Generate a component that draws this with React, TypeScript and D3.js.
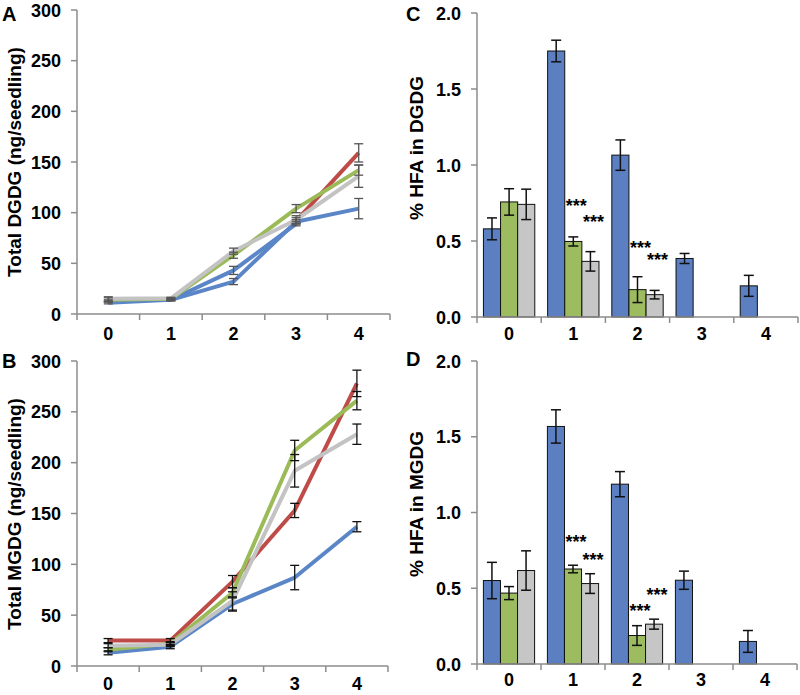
import React from "react";
import * as d3 from "d3";

// ---------- data ----------
const days = ["0", "1", "2", "3", "4"];

// Panel A: Total DGDG (ng/seedling)
const dgdgBlue = [11, 14, 32, 91, 104];
const dgdgBlueErr = [1, 1, 3, 2, 10];
const dgdgBlue2 = [13, 14, 43, 89, null];
const dgdgBlue2Err = [1, 1, 4, 2, 0];
const dgdgRed = [null, null, null, 92, 159];
const dgdgRedErr = [0, 0, 0, 3, 9];
const dgdgGreen = [14, 15, 58, 104, 142];
const dgdgGreenErr = [2, 1, 3, 4, 5];
const dgdgGray = [15, 15.5, 62, 93, 136];
const dgdgGrayErr = [2, 1, 3, 4, 11];

// Panel B: Total MGDG (ng/seedling)
const mgdgBlue = [13, 19, 61, 87, 137];
const mgdgBlueErr = [2, 2, 7, 12, 5];
const mgdgRed = [25, 25, 83, 153, 278];
const mgdgRedErr = [2, 2, 6, 7, 13];
const mgdgGreen = [16, 22, 72, 212, 261];
const mgdgGreenErr = [2, 2, 5, 10, 9];
const mgdgGray = [20, 21, 64, 192, 228];
const mgdgGrayErr = [2, 2, 9, 16, 10];

// Panel C: % HFA in DGDG
const hfaDgdgBlue = [0.58, 1.75, 1.065, 0.385, 0.205];
const hfaDgdgBlueErr = [0.072, 0.071, 0.1, 0.033, 0.069];
const hfaDgdgGreen = [0.757, 0.497, 0.18, null, null];
const hfaDgdgGreenErr = [0.087, 0.03, 0.085, 0, 0];
const hfaDgdgGray = [0.741, 0.366, 0.147, null, null];
const hfaDgdgGrayErr = [0.1, 0.064, 0.028, 0, 0];
// significance marks: [day, series, value]
const hfaDgdgStars: [string, string, number][] = [
  ["1", "green", 0.76],
  ["1", "gray", 0.66],
  ["2", "green", 0.49],
  ["2", "gray", 0.41],
];

// Panel D: % HFA in MGDG
const hfaMgdgBlue = [0.551, 1.568, 1.187, 0.553, 0.149];
const hfaMgdgBlueErr = [0.12, 0.11, 0.083, 0.06, 0.072];
const hfaMgdgGreen = [0.468, 0.627, 0.188, null, null];
const hfaMgdgGreenErr = [0.043, 0.025, 0.065, 0, 0];
const hfaMgdgGray = [0.617, 0.531, 0.263, null, null];
const hfaMgdgGrayErr = [0.13, 0.065, 0.033, 0, 0];
const hfaMgdgStars: [string, string, number][] = [
  ["1", "green", 0.84],
  ["1", "gray", 0.72],
  ["2", "green", 0.38],
  ["2", "gray", 0.49],
];

const lineTicks = [0, 50, 100, 150, 200, 250, 300];
const barTicks = [0, 0.5, 1.0, 1.5, 2.0];

const barSeries = ["blue", "green", "gray"];

const COL = {
  lineBlue: "#5a86c8",
  lineRed: "#be4b48",
  lineGreen: "#9bbb59",
  lineGray: "#c3c3c3",
  barBlue: "#5b7fc0",
  barGreen: "#9dbb5f",
  barGray: "#c6c6c6",
  axis: "#8c8c8c",
};

const FONT = "'Liberation Sans', Arial, sans-serif";

type LineSeries = { values: (number | null)[]; err: number[]; color: string; errColor: string };

function Axes({
  x0, x1, y0, y1, yScale, ticks, fmt, title, label, labelY, titleX, titleY, xLabelY,
}: any) {
  const band = d3.scaleBand().domain(days).range([x0, x1]);
  const bounds = [x0, ...days.map((d) => (band(d) as number) + band.bandwidth())];
  return (
    <g>
      <line x1={x0} x2={x0} y1={y0} y2={y1} stroke={COL.axis} strokeWidth={1.5} />
      <line x1={x0} x2={x1} y1={y0} y2={y0} stroke={COL.axis} strokeWidth={1.5} />
      {ticks.map((t: number) => (
        <g key={t}>
          <line x1={x0 - 6} x2={x0} y1={yScale(t)} y2={yScale(t)} stroke={COL.axis} strokeWidth={1.5} />
          <text x={x0 - 16} y={yScale(t) + 6.5} textAnchor="end" fontSize={18} fontWeight="bold" fontFamily={FONT}>
            {fmt(t)}
          </text>
        </g>
      ))}
      {bounds.map((b, i) => (
        <line key={i} x1={b} x2={b} y1={y0} y2={y0 + 6} stroke={COL.axis} strokeWidth={1.5} />
      ))}
      {days.map((d) => (
        <text key={d} x={(band(d) as number) + band.bandwidth() / 2} y={xLabelY} textAnchor="middle" fontSize={18} fontWeight="bold" fontFamily={FONT}>
          {d}
        </text>
      ))}
      <text
        transform={`translate(${titleX},${titleY}) rotate(-90)`}
        textAnchor="middle"
        dominantBaseline="central"
        fontSize={19}
        fontWeight="bold"
        fontFamily={FONT}
      >
        {title}
      </text>
      <text x={label.x} y={labelY} fontSize={20} fontWeight="bold" fontFamily={FONT}>
        {label.text}
      </text>
    </g>
  );
}

function LinePanel({ x0, x1, y0, y1, series, title, label, labelY, titleX, titleY, xLabelY }: any) {
  const band = d3.scaleBand().domain(days).range([x0, x1]);
  const cx = (d: string) => (band(d) as number) + band.bandwidth() / 2;
  const y = d3.scaleLinear().domain([0, 300]).range([y0, y1]);
  const line = d3
    .line<[string, number | null]>()
    .defined((p) => p[1] !== null)
    .x((p) => cx(p[0]))
    .y((p) => y(p[1] as number));
  return (
    <g>
      <Axes x0={x0} x1={x1} y0={y0} y1={y1} yScale={y} ticks={lineTicks} fmt={(t: number) => String(t)}
        title={title} label={label} labelY={labelY} titleX={titleX} titleY={titleY} xLabelY={xLabelY} />
      {series.map((s: LineSeries, i: number) => (
        <path key={i} d={line(days.map((d, k) => [d, s.values[k]])) || ""} fill="none" stroke={s.color} strokeWidth={4} strokeLinejoin="round" />
      ))}
      {series.map((s: LineSeries, i: number) =>
        days.map((d, k) => {
          const v = s.values[k];
          if (v === null || !s.err[k]) return null;
          const yt = y(v + s.err[k]);
          const yb = y(v - s.err[k]);
          const xx = cx(d);
          return (
            <g key={`${i}-${k}`} stroke={s.errColor} strokeWidth={1.3}>
              <line x1={xx} x2={xx} y1={yt} y2={yb} />
              <line x1={xx - 4.5} x2={xx + 4.5} y1={yt} y2={yt} />
              <line x1={xx - 4.5} x2={xx + 4.5} y1={yb} y2={yb} />
            </g>
          );
        })
      )}
    </g>
  );
}

function BarPanel({ x0, x1, y0, y1, blue, blueErr, green, greenErr, gray, grayErr, stars, title, label, labelY, titleX, titleY, xLabelY }: any) {
  const band = d3.scaleBand().domain(days).range([x0, x1]);
  const inner = d3.scaleBand().domain(barSeries).range([band.bandwidth() * 0.1, band.bandwidth() * 0.9]);
  const y = d3.scaleLinear().domain([0, 2]).range([y0, y1]);
  const data: Record<string, { v: (number | null)[]; e: number[]; c: string }> = {
    blue: { v: blue, e: blueErr, c: COL.barBlue },
    green: { v: green, e: greenErr, c: COL.barGreen },
    gray: { v: gray, e: grayErr, c: COL.barGray },
  };
  return (
    <g>
      {barSeries.map((s) =>
        days.map((d, k) => {
          const v = data[s].v[k];
          if (v === null) return null;
          const bx = (band(d) as number) + (inner(s) as number);
          const w = inner.bandwidth();
          const e = data[s].e[k];
          const xx = bx + w / 2;
          return (
            <g key={`${s}-${d}`}>
              <rect x={bx} y={y(v)} width={w} height={y0 - y(v)} fill={data[s].c} stroke="#111" strokeWidth={1} />
              <g stroke="#111" strokeWidth={1.5}>
                <line x1={xx} x2={xx} y1={y(v + e)} y2={y(v - e)} />
                <line x1={xx - 5} x2={xx + 5} y1={y(v + e)} y2={y(v + e)} />
                <line x1={xx - 5} x2={xx + 5} y1={y(v - e)} y2={y(v - e)} />
              </g>
            </g>
          );
        })
      )}
      {stars.map(([d, s, v]: [string, string, number], i: number) => (
        <text key={i} x={(band(d) as number) + (inner(s) as number) + inner.bandwidth() / 2 + 3} y={y(v) + 11}
          textAnchor="middle" fontSize={18} fontWeight="bold" fontFamily={FONT}>
          ***
        </text>
      ))}
      <Axes x0={x0} x1={x1} y0={y0} y1={y1} yScale={y} ticks={barTicks} fmt={(t: number) => t.toFixed(1)}
        title={title} label={label} labelY={labelY} titleX={titleX} titleY={titleY} xLabelY={xLabelY} />
    </g>
  );
}

export default function App() {
  const seriesA: LineSeries[] = [
    { values: dgdgBlue, err: dgdgBlueErr, color: COL.lineBlue, errColor: "#555" },
    { values: dgdgBlue2, err: dgdgBlue2Err, color: COL.lineBlue, errColor: "#555" },
    { values: dgdgRed, err: dgdgRedErr, color: COL.lineRed, errColor: "#555" },
    { values: dgdgGreen, err: dgdgGreenErr, color: COL.lineGreen, errColor: "#555" },
    { values: dgdgGray, err: dgdgGrayErr, color: COL.lineGray, errColor: "#555" },
  ];
  const seriesB: LineSeries[] = [
    { values: mgdgBlue, err: mgdgBlueErr, color: COL.lineBlue, errColor: "#111" },
    { values: mgdgRed, err: mgdgRedErr, color: COL.lineRed, errColor: "#111" },
    { values: mgdgGreen, err: mgdgGreenErr, color: COL.lineGreen, errColor: "#111" },
    { values: mgdgGray, err: mgdgGrayErr, color: COL.lineGray, errColor: "#111" },
  ];
  return (
    <svg width={800} height={695} style={{ position: "absolute", left: 0, top: 0, background: "#fff" }}>
      <rect width={800} height={695} fill="#fff" />
      <LinePanel x0={77} x1={390} y0={314} y1={10} series={seriesA} title="Total DGDG (ng/seedling)"
        label={{ x: 2, text: "A" }} labelY={21} titleX={14} titleY={162} xLabelY={340} />
      <LinePanel x0={77} x1={388} y0={666} y1={361} series={seriesB} title="Total MGDG (ng/seedling)"
        label={{ x: 2, text: "B" }} labelY={368} titleX={14} titleY={514} xLabelY={690} />
      <BarPanel x0={477} x1={798} y0={317} y1={13} blue={hfaDgdgBlue} blueErr={hfaDgdgBlueErr}
        green={hfaDgdgGreen} greenErr={hfaDgdgGreenErr} gray={hfaDgdgGray} grayErr={hfaDgdgGrayErr}
        stars={hfaDgdgStars} title="% HFA in DGDG" label={{ x: 406, text: "C" }} labelY={21}
        titleX={416} titleY={148} xLabelY={340} />
      <BarPanel x0={477} x1={797} y0={664} y1={361} blue={hfaMgdgBlue} blueErr={hfaMgdgBlueErr}
        green={hfaMgdgGreen} greenErr={hfaMgdgGreenErr} gray={hfaMgdgGray} grayErr={hfaMgdgGrayErr}
        stars={hfaMgdgStars} title="% HFA in MGDG" label={{ x: 406, text: "D" }} labelY={366}
        titleX={416} titleY={504} xLabelY={686} />
    </svg>
  );
}
